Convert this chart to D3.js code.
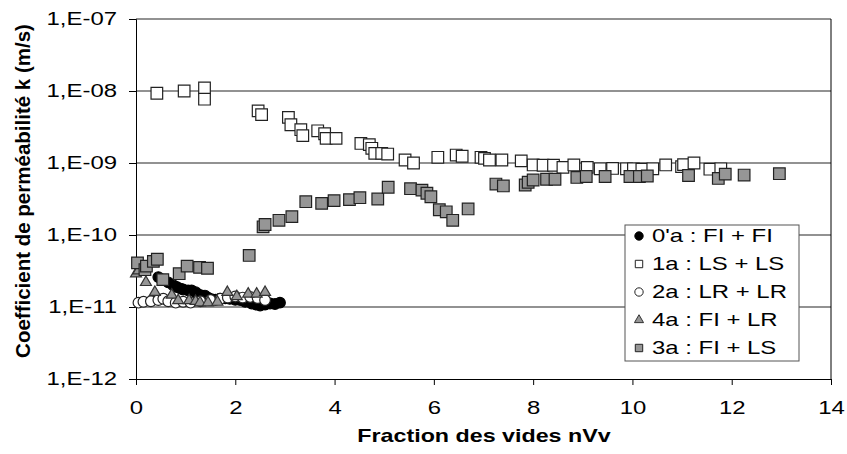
<!DOCTYPE html>
<html>
<head>
<meta charset="utf-8">
<script src="https://cdn.jsdelivr.net/npm/d3@7"></script>
<style>
  body { margin: 0; background: #fff; }
  text { font-family: "Liberation Sans", Arial, sans-serif; }
</style>
</head>
<body>
<div id="chart"></div>
<script>
// x ticks and y decades
const xTicks = [0, 2, 4, 6, 8, 10, 12, 14];
const yTicks = [1e-12, 1e-11, 1e-10, 1e-9, 1e-8, 1e-7];

// 0'a : FI + FI (black circles)
const s0x = [0.45, 0.55, 0.65, 0.75, 0.82, 0.9, 0.95, 1.05, 1.12, 1.2, 1.25, 1.32, 1.39, 1.45, 1.52, 1.6, 1.69, 1.8, 1.89, 2.0, 2.1, 2.2, 2.33, 2.42, 2.5, 2.6, 2.7, 2.8, 2.9];
const s0k = [2.6e-11, 2.4e-11, 2.2e-11, 2.0e-11, 1.9e-11, 1.8e-11, 1.75e-11, 1.7e-11, 1.7e-11, 1.6e-11, 1.5e-11, 1.45e-11, 1.44e-11, 1.35e-11, 1.28e-11, 1.26e-11, 1.3e-11, 1.32e-11, 1.3e-11, 1.26e-11, 1.25e-11, 1.18e-11, 1.12e-11, 1.08e-11, 1.05e-11, 1.08e-11, 1.12e-11, 1.1e-11, 1.15e-11];

// 1a : LS + LS (open squares)
const s1x = [0.42, 0.97, 1.38, 1.38, 2.46, 2.53, 3.07, 3.12, 3.32, 3.36, 3.66, 3.8, 3.83, 4.03, 4.53, 4.7, 4.75, 4.81, 4.95, 5.07, 5.42, 5.59, 6.08, 6.45, 6.57, 6.95, 7.02, 7.12, 7.37, 7.76, 8.0, 8.2, 8.41, 8.6, 8.82, 9.09, 9.35, 9.6, 9.88, 10.02, 10.19, 10.41, 10.67, 10.99, 11.03, 11.24, 11.56, 11.78];
const s1k = [9.3e-9, 1.0e-8, 1.1e-8, 7.7e-9, 5.3e-9, 4.7e-9, 4.3e-9, 3.4e-9, 2.9e-9, 2.4e-9, 2.8e-9, 2.55e-9, 2.2e-9, 2.2e-9, 1.87e-9, 1.8e-9, 1.6e-9, 1.36e-9, 1.36e-9, 1.33e-9, 1.1e-9, 1.0e-9, 1.2e-9, 1.29e-9, 1.24e-9, 1.2e-9, 1.16e-9, 1.1e-9, 1.1e-9, 1.07e-9, 0.94e-9, 0.93e-9, 0.93e-9, 0.87e-9, 0.94e-9, 0.87e-9, 0.83e-9, 0.84e-9, 0.83e-9, 0.83e-9, 0.82e-9, 0.83e-9, 0.94e-9, 0.89e-9, 0.95e-9, 1.0e-9, 0.82e-9, 0.83e-9];

// 2a : LR + LR (open circles)
const s2x = [0.05, 0.15, 0.3, 0.45, 0.55, 0.65, 0.8, 0.95, 1.1, 1.3, 1.5, 1.7, 1.85, 2.0, 2.15, 2.3, 2.45, 2.6];
const s2k = [1.15e-11, 1.18e-11, 1.2e-11, 1.25e-11, 1.3e-11, 1.2e-11, 1.15e-11, 1.18e-11, 1.15e-11, 1.2e-11, 1.25e-11, 1.3e-11, 1.35e-11, 1.4e-11, 1.35e-11, 1.38e-11, 1.33e-11, 1.25e-11];

// 4a : FI + LR (grey triangles)
const s4x = [0.0, 0.05, 0.2, 0.38, 0.72, 0.85, 1.07, 1.2, 1.29, 1.45, 1.64, 1.84, 2.03, 2.26, 2.43, 2.6];
const s4k = [2.9e-11, 3.2e-11, 2.2e-11, 1.6e-11, 1.47e-11, 1.23e-11, 1.23e-11, 1.2e-11, 1.15e-11, 1.15e-11, 1.17e-11, 1.6e-11, 1.4e-11, 1.52e-11, 1.52e-11, 1.6e-11];

// 3a : FI + LS (grey squares)
const s3x = [0.03, 0.18, 0.21, 0.35, 0.43, 0.54, 0.87, 1.03, 1.28, 1.44, 2.28, 2.56, 2.6, 2.88, 3.14, 3.42, 3.74, 3.99, 4.3, 4.51, 4.87, 5.08, 5.53, 5.76, 5.86, 5.94, 6.11, 6.25, 6.38, 6.69, 7.25, 7.4, 7.84, 7.9, 8.0, 8.27, 8.44, 8.88, 9.07, 9.45, 9.95, 10.14, 10.3, 11.13, 11.73, 11.87, 12.25, 12.96];
const s3k = [4.1e-11, 3.3e-11, 3.7e-11, 4.3e-11, 4.6e-11, 2.4e-11, 2.9e-11, 3.7e-11, 3.55e-11, 3.45e-11, 5.2e-11, 1.3e-10, 1.4e-10, 1.6e-10, 1.8e-10, 2.9e-10, 2.75e-10, 3.0e-10, 3.1e-10, 3.3e-10, 3.16e-10, 4.6e-10, 4.4e-10, 4.2e-10, 3.8e-10, 3.4e-10, 2.24e-10, 2.1e-10, 1.6e-10, 2.3e-10, 5.1e-10, 4.8e-10, 4.95e-10, 5.4e-10, 5.8e-10, 5.95e-10, 5.95e-10, 6.3e-10, 6.5e-10, 6.5e-10, 6.5e-10, 6.5e-10, 6.6e-10, 6.7e-10, 6.1e-10, 7.0e-10, 6.8e-10, 7.1e-10];

const W = 847, H = 454;
const margin = { top: 19, right: 16, bottom: 75, left: 136 };
const sx = 1.33; // the original text is drawn a bit wider than normal

const svg = d3.select("#chart").append("svg")
  .attr("width", W).attr("height", H);

const x = d3.scaleLinear().domain([0, 14]).range([margin.left, W - margin.right]);
const y = d3.scaleLog().domain([1e-12, 1e-7]).range([H - margin.bottom, margin.top]);

// grid lines at each decade
svg.append("g")
  .selectAll("line")
  .data(yTicks.slice(1))
  .join("line")
  .attr("x1", x(0)).attr("x2", x(14))
  .attr("y1", d => y(d)).attr("y2", d => y(d))
  .attr("stroke", "#6e6e6e").attr("stroke-width", 1.5);

// right border of plot area
svg.append("line")
  .attr("x1", x(14)).attr("x2", x(14))
  .attr("y1", y(1e-7)).attr("y2", y(1e-12))
  .attr("stroke", "#000");

const fmt = d => "1,E-" + String(Math.round(-Math.log10(d))).padStart(2, "0");

const yAxis = svg.append("g")
  .attr("transform", `translate(${x(0)},0)`)
  .call(d3.axisLeft(y).tickValues(yTicks).tickFormat(fmt).tickSize(7).tickPadding(12));
yAxis.selectAll("text")
  .attr("x", 0)
  .attr("transform", `translate(-19,0) scale(${sx},1)`);

const xAxis = svg.append("g")
  .attr("transform", `translate(0,${y(1e-12)})`)
  .call(d3.axisBottom(x).tickValues(xTicks).tickFormat(d3.format("d")).tickSize(6).tickPadding(16));
xAxis.selectAll("text")
  .attr("transform", `scale(${sx},1)`);

[yAxis, xAxis].forEach(g => {
  g.selectAll("text").style("font-size", "18px").attr("fill", "#000");
  g.selectAll("line, path").attr("stroke", "#000");
});

// axis titles
svg.append("text")
  .attr("transform", `translate(484,442) scale(${sx},1)`)
  .attr("text-anchor", "middle")
  .style("font-size", "17.5px").style("font-weight", "bold")
  .text("Fraction des vides nVv");

svg.append("text")
  .attr("transform", `translate(30,191) rotate(-90)`)
  .attr("text-anchor", "middle")
  .style("font-size", "20.5px").style("font-weight", "bold")
  .text("Coefficient de perméabilité k (m/s)");

const grey = "#969696";
const series = [
  { name: "0'a : FI + FI", xs: s0x, ks: s0k, shape: d3.symbolCircle, fill: "#000", stroke: "#000", size: 90 },
  { name: "1a : LS + LS", xs: s1x, ks: s1k, shape: d3.symbolSquare, fill: "#fff", stroke: "#222", size: 135 },
  { name: "2a : LR + LR", xs: s2x, ks: s2k, shape: d3.symbolCircle, fill: "#fff", stroke: "#222", size: 90 },
  { name: "4a : FI + LR", xs: s4x, ks: s4k, shape: d3.symbolTriangle, fill: grey, stroke: "#333", size: 52 },
  { name: "3a : FI + LS", xs: s3x, ks: s3k, shape: d3.symbolSquare, fill: grey, stroke: "#222", size: 135 }
];

series.forEach(s => {
  svg.append("g")
    .selectAll("path")
    .data(s.xs.map((v, i) => [v, s.ks[i]]))
    .join("path")
    .attr("d", d3.symbol().type(s.shape).size(s.size))
    .attr("transform", d => `translate(${x(d[0])},${y(d[1])})`)
    .attr("fill", s.fill)
    .attr("stroke", s.stroke)
    .attr("stroke-width", 1.2);
});

// legend
const leg = svg.append("g").attr("transform", "translate(625,225)");
leg.append("rect")
  .attr("width", 174).attr("height", 136)
  .attr("fill", "#fff").attr("stroke", "#555").attr("stroke-width", 1);

series.forEach((s, i) => {
  const row = leg.append("g").attr("transform", `translate(0,${11 + i * 28})`);
  row.append("path")
    .attr("d", d3.symbol().type(s.shape).size(s.shape === d3.symbolTriangle ? 36 : 55))
    .attr("transform", "translate(14,0)")
    .attr("fill", s.fill).attr("stroke", s.stroke).attr("stroke-width", 1);
  row.append("text")
    .attr("transform", `translate(27,0) scale(${sx},1)`)
    .attr("dy", "0.35em")
    .style("font-size", "18px")
    .text(s.name);
});
</script>
</body>
</html>
